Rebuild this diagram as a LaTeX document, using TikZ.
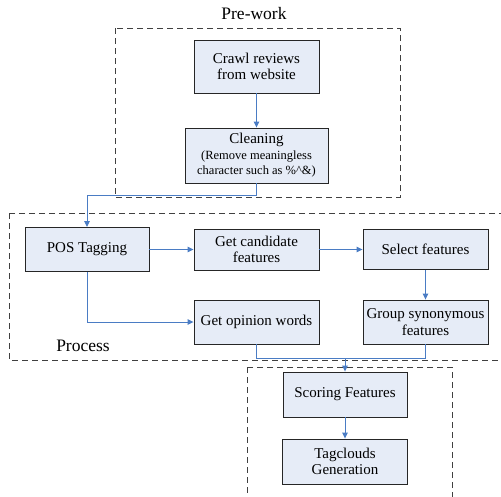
\documentclass[tikz,border=0pt]{standalone}
\usepackage{fontspec}
\setmainfont{Liberation Serif}
\usetikzlibrary{arrows.meta}
\definecolor{boxfill}{HTML}{E6ECF7}
\definecolor{linkblue}{HTML}{4A7CC4}
\definecolor{dashgray}{HTML}{404040}
\tikzset{
  stepbox/.style={draw=black!85, line width=0.9pt, fill=boxfill, align=center,
    inner sep=2pt, font=\fontsize{15}{16.5}\selectfont},
  link/.style={draw=linkblue, line width=0.9pt},
  arrowlink/.style={link, -{Triangle[length=6pt,width=5.5pt]}},
  groupframe/.style={draw=dashgray, line width=0.8pt, dash pattern=on 6pt off 4pt},
  grouplabel/.style={font=\fontsize{17.5}{20}\selectfont}
}
\begin{document}
\begin{tikzpicture}[x=1pt, y=-1pt]
  \useasboundingbox (0,0) rectangle (501,496);
  \clip (0,0) rectangle (501,496);

  % dashed stage frames
  \draw[groupframe] (115,28) rectangle (400,197);
  \draw[groupframe] (9,213) rectangle (520,360);
  \draw[groupframe] (247,367) rectangle (452,520);
  \node[grouplabel] (prelabel) at (254,14) {Pre-work};
  \node[grouplabel] (proclabel) at (83,346) {Process};

  % process steps
  \node[stepbox, minimum width=125pt, minimum height=53pt] (crawl) at (256.5,66.5) {Crawl reviews\\from website};
  \node[stepbox, minimum width=143pt, minimum height=55pt] (clean) at (256.5,155.5)
    {Cleaning\\[-1pt]{\fontsize{12.5}{14}\selectfont (Remove meaningless}\\[-1pt]{\fontsize{12.5}{14}\selectfont character such as \%\textasciicircum\&)}};
  \node[stepbox, minimum width=124pt, minimum height=44pt] (pos) at (87,249.5) {POS Tagging};
  \node[stepbox, minimum width=125pt, minimum height=41pt] (cand) at (256.5,249.5) {Get candidate\\features};
  \node[stepbox, minimum width=125pt, minimum height=40pt] (sel) at (425.5,249.5) {Select features};
  \node[stepbox, minimum width=125pt, minimum height=44pt] (op) at (256.5,322) {Get opinion words};
  \node[stepbox, minimum width=125pt, minimum height=44pt] (grp) at (425.5,322) {Group synonymous\\features};
  \node[stepbox, minimum width=124pt, minimum height=45pt] (score) at (345,394.5) {Scoring Features};
  \node[stepbox, minimum width=125pt, minimum height=45pt] (tag) at (345,461.5) {Tagclouds\\Generation};

  % connectors
  \draw[arrowlink] (crawl.south) -- (clean.north);
  \draw[arrowlink] (clean.south) -- ++(0,12) -| (pos.north);
  \draw[arrowlink] (pos.east) -- (cand.west);
  \draw[arrowlink] (cand.east) -- (sel.west);
  \draw[arrowlink] (sel.south) -- (grp.north);
  \draw[arrowlink] (pos.south) |- (op.west);
  \draw[link] (op.south) -- ++(0,14) coordinate (merge) -| (grp.south);
  \draw[arrowlink] (merge -| score.north) -- (score.north);
  \draw[arrowlink] (score.south) -- (tag.north);
\end{tikzpicture}
\end{document}
